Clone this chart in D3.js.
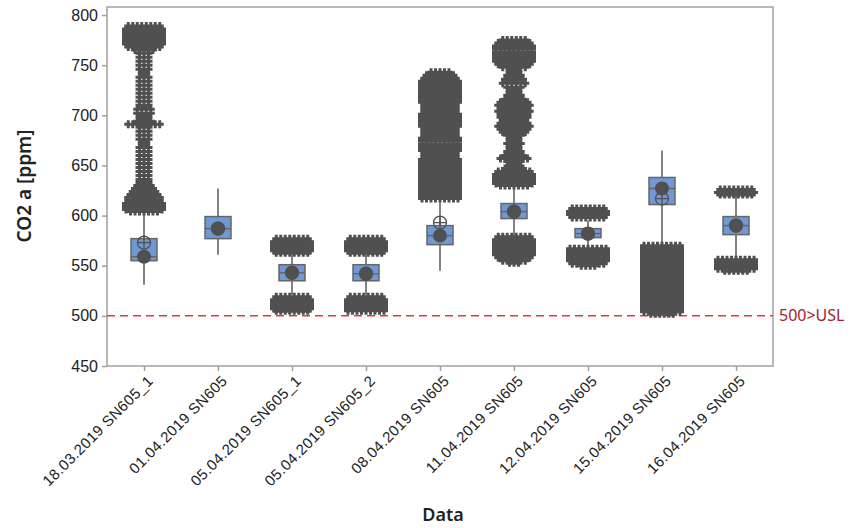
<!DOCTYPE html>
<html>
<head>
<meta charset="utf-8">
<script src="https://cdn.jsdelivr.net/npm/d3@7"></script>
<style>
  body { margin: 0; background: #fff; }
  svg { font-family: 'Noto Sans', 'Open Sans', sans-serif; }
</style>
</head>
<body>
<svg id="chart" width="851" height="528"></svg>
<script>
'use strict';

var categories = ['18.03.2019 SN605_1', '01.04.2019 SN605', '05.04.2019 SN605_1', '05.04.2019 SN605_2',
  '08.04.2019 SN605', '11.04.2019 SN605', '12.04.2019 SN605', '15.04.2019 SN605', '16.04.2019 SN605'];

var whiskerLow  = [531, 561, 521, 521, 545, 580, 570, 573, 558];
var q1          = [555, 577, 535, 535, 571, 597, 578, 611, 581];
var medians     = [559, 587, 543, 542, 580, 604, 582, 627, 590];
var q3          = [577, 599, 551, 551, 590, 612, 587, 638, 599];
var whiskerHigh = [603, 627, 561, 561, 615, 629, 595, 665, 620];
var means       = [573, 587, 543, 542, 593, 604, 582, 617, 590];

var yTicks = [450, 500, 550, 600, 650, 700, 750, 800];
var usl = 500;

// outliers: [value, number of readings at that level]
var outliers1 = [[789,8],[786,9],[783,9],[780,9],[777,9],[774,9],[771,9],[768,8],[765,5],
  [762,3],[758,3],[754,3],[750,3],[746,3],[742,2],[738,3],[734,3],[730,3],[726,3],[722,3],[718,3],
  [714,3],[710,3],[706,4],[702,4],[698,3],[694,4],[691,8],[688,3],[684,3],[680,3],[676,3],[672,2],
  [668,3],[664,3],[660,3],[656,3],[652,3],[648,3],[644,3],[640,3],[636,3],[633,3],
  [630,4],[627,5],[624,6],[621,7],[618,8],[615,8],[612,9],[609,9],[606,9],[604,7]];
var outliers2 = [];
var outliers3 = [[577,8],[574,9],[571,9],[568,9],[565,9],[563,8],
  [519,8],[516,9],[513,9],[510,9],[507,9],[505,8]];
var outliers4 = [[577,8],[574,9],[571,9],[568,9],[565,9],[563,8],
  [519,8],[516,9],[513,9],[510,9],[507,9],[505,9]];
var outliers5 = [[743,5],[740,7],[737,8],[734,9],[731,9],[728,9],[725,9],[722,9],[719,9],[716,9],
  [713,9],[710,8],[707,8],[704,8],[701,9],[698,9],[695,9],[692,9],[689,9],[686,8],[683,8],[680,8],
  [677,9],[674,9],[671,9],[668,9],[665,9],[662,8],[659,8],[656,9],[653,9],[650,9],[647,9],[644,9],
  [641,9],[638,9],[635,9],[632,9],[629,9],[626,9],[623,9],[620,9],[617,9]];
var outliers6 = [[775,6],[772,8],[769,9],[766,9],[763,9],[760,9],[757,9],[754,9],[751,8],[748,6],
  [744,3],[740,4],[736,5],[732,6],[728,4],[724,3],[720,4],[716,5],
  [713,7],[710,8],[707,7],[704,8],[701,7],[698,7],[695,6],[692,7],[689,8],[686,7],[683,6],
  [680,4],[676,3],[672,4],[668,3],[664,4],[660,5],[657,7],[654,4],[650,3],[647,5],
  [644,8],[641,9],[638,9],[635,9],[632,9],[630,7],
  [579,8],[576,9],[573,9],[570,9],[567,9],[564,9],[561,9],[558,8],[555,6],[553,3]];
var outliers7 = [[607,8],[604,9],[601,9],[598,8],
  [567,9],[564,9],[561,9],[558,9],[555,9],[552,8],[550,4]];
var outliers8 = [[570,9],[567,9],[564,9],[561,9],[558,9],[555,9],[552,9],[549,9],[546,9],[543,9],
  [540,9],[537,9],[534,9],[531,9],[528,9],[525,9],[522,9],[519,9],[516,9],[513,9],[510,9],[507,9],
  [504,9],[502,6]];
var outliers9 = [[626,8],[623,9],[621,8],
  [556,9],[553,9],[550,9],[547,9],[545,6]];
var outliers = [outliers1, outliers2, outliers3, outliers4, outliers5, outliers6, outliers7, outliers8, outliers9];

(function() {
  var svg = d3.select('#chart');
  var left = 107, right = 773, top = 7, bottom = 366;
  var boxW = 26, symGap = 4.5, arm = 4;
  var grey = '#505050', frame = '#a0a0a0';

  var x = d3.scalePoint().domain(categories).range([left, right]).padding(0.5);
  var y = d3.scaleLinear().domain([450, 808]).range([bottom, top]);

  // frame
  svg.append('rect')
    .attr('x', left).attr('y', top)
    .attr('width', right - left).attr('height', bottom - top)
    .attr('fill', 'none').attr('stroke', frame).attr('stroke-width', 1.5);

  // y axis
  var yAxis = svg.append('g')
    .attr('transform', 'translate(' + left + ',0)')
    .call(d3.axisLeft(y).tickValues(yTicks).tickSize(5).tickPadding(4));
  yAxis.select('.domain').remove();
  yAxis.selectAll('line').attr('stroke', frame).attr('stroke-width', 1.5);
  yAxis.selectAll('text').attr('font-size', 16).attr('fill', '#222');

  // x axis
  var xAxis = svg.append('g')
    .attr('transform', 'translate(0,' + bottom + ')')
    .call(d3.axisBottom(x).tickSize(5));
  xAxis.select('.domain').remove();
  xAxis.selectAll('line').attr('stroke', frame).attr('stroke-width', 1.5);
  xAxis.selectAll('text')
    .attr('font-size', 15).attr('fill', '#222')
    .attr('letter-spacing', 0.4)
    .attr('text-anchor', 'end')
    .attr('transform', 'translate(6,12) rotate(-45)')
    .attr('x', 0).attr('y', 0).attr('dy', '0.35em');

  // axis titles
  svg.append('text')
    .attr('transform', 'translate(31,186) rotate(-90)')
    .attr('text-anchor', 'middle')
    .attr('font-size', 19).attr('font-weight', 600).attr('fill', '#222')
    .text('CO2 a [ppm]');
  svg.append('text')
    .attr('x', 443).attr('y', 521)
    .attr('text-anchor', 'middle')
    .attr('font-size', 18).attr('font-weight', 600).attr('fill', '#222')
    .text('Data');

  // USL reference line
  svg.append('line')
    .attr('x1', left).attr('x2', right)
    .attr('y1', y(usl)).attr('y2', y(usl))
    .attr('stroke', '#e0393e').attr('stroke-width', 1.5)
    .attr('stroke-dasharray', '8,5');
  svg.append('text')
    .attr('x', right + 6).attr('y', y(usl)).attr('dy', '0.35em')
    .attr('font-size', 16).attr('fill', '#a5222c')
    .text(usl + '>USL');

  var g = svg.append('g');

  categories.forEach(function(c, i) {
    var cx = x(c);

    // whiskers
    g.append('line')
      .attr('x1', cx).attr('x2', cx)
      .attr('y1', y(whiskerLow[i])).attr('y2', y(whiskerHigh[i]))
      .attr('stroke', '#5a5a5a').attr('stroke-width', 1.5);

    // box
    g.append('rect')
      .attr('x', cx - boxW / 2).attr('y', y(q3[i]))
      .attr('width', boxW).attr('height', y(q1[i]) - y(q3[i]))
      .attr('fill', '#6f98d5').attr('stroke', '#666').attr('stroke-width', 1.5);
    g.append('line')
      .attr('x1', cx - boxW / 2).attr('x2', cx + boxW / 2)
      .attr('y1', y(medians[i])).attr('y2', y(medians[i]))
      .attr('stroke', '#666').attr('stroke-width', 1.5);

    // mean symbol
    var my = y(means[i]);
    g.append('circle')
      .attr('cx', cx).attr('cy', my).attr('r', 6.5)
      .attr('fill', 'none').attr('stroke', grey).attr('stroke-width', 1.3);
    g.append('path')
      .attr('d', 'M' + (cx - 6.5) + ',' + my + 'H' + (cx + 6.5) + 'M' + cx + ',' + (my - 6.5) + 'V' + (my + 6.5))
      .attr('stroke', grey).attr('stroke-width', 1.3);

    // outliers, readings at the same level laid side by side
    var pts = [];
    outliers[i].forEach(function(o) {
      for (var k = 0; k < o[1]; k++) {
        pts.push([cx + (k - (o[1] - 1) / 2) * symGap, y(o[0])]);
      }
    });
    g.append('path')
      .attr('d', pts.map(function(p) {
        return 'M' + (p[0] - arm) + ',' + p[1] + 'h' + (2 * arm) +
          'M' + p[0] + ',' + (p[1] - arm) + 'v' + (2 * arm);
      }).join(''))
      .attr('fill', 'none').attr('stroke', grey).attr('stroke-width', 3);

    // median dot
    g.append('circle')
      .attr('cx', cx).attr('cy', y(medians[i])).attr('r', 7)
      .attr('fill', grey);
  });
})();
</script>
</body>
</html>
